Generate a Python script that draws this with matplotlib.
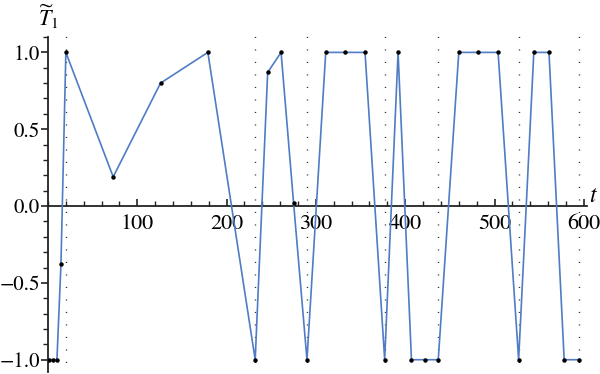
import numpy as np
import matplotlib
matplotlib.use("Agg")
import matplotlib.pyplot as plt
from matplotlib.ticker import MultipleLocator, FixedLocator

plt.rcParams['font.family'] = ['STIXGeneral', 'DejaVu Serif']
plt.rcParams['mathtext.fontset'] = 'stix'

# sample points of the curve
t = [1, 5.5, 10, 14.5, 20, 73, 126, 179, 232, 246, 261, 275, 290, 311, 333, 355,
     377, 392, 407, 422, 437, 460, 482, 504, 527, 544, 561, 578, 595]
T1 = [-1.0, -1.0, -1.0, -0.38, 1.0, 0.19, 0.80, 1.0, -1.0, 0.87, 1.0, 0.02, -1.0,
      1.0, 1.0, 1.0, -1.0, 1.0, -1.0, -1.0, -1.0, 1.0, 1.0, 1.0, -1.0, 1.0, 1.0,
      -1.0, -1.0]

# dotted vertical markers
switch_times = [20, 232, 290, 377, 437, 527, 595]

x_ticks = [100, 200, 300, 400, 500, 600]
y_ticks = [-1.0, -0.5, 0.0, 0.5, 1.0]

fig = plt.figure(figsize=(6.0, 3.74), dpi=100)
ax = fig.add_axes([0.08, 0.0053, 0.8975, 0.8957])

ax.set_xlim(0, 603)
ax.set_ylim(-1.08, 1.1)

for s in switch_times:
    ax.vlines(s, -1.12, 1.12, colors='#333333', linewidth=1.0,
              linestyles=(0, (0.8, 8.2)), clip_on=False, zorder=1)

ax.plot(t, T1, color='#4f7cc4', linewidth=1.2, zorder=3)
ax.plot(t, T1, 'o', color='black', markersize=2.2, zorder=4)

# axes through the origin
ax.spines['left'].set_position(('data', 0))
ax.spines['bottom'].set_position(('data', 0))
ax.spines['top'].set_visible(False)
ax.spines['right'].set_visible(False)
for sp in ('left', 'bottom'):
    ax.spines[sp].set_linewidth(1.3)
    ax.spines[sp].set_color('#222222')
    ax.spines[sp].set_zorder(2)

ax.xaxis.set_major_locator(FixedLocator(x_ticks))
ax.xaxis.set_minor_locator(MultipleLocator(20))
ax.yaxis.set_major_locator(FixedLocator(y_ticks))
ax.yaxis.set_minor_locator(MultipleLocator(0.1))
ax.set_xticklabels([str(v) for v in x_ticks])
ax.set_yticklabels(['\u22121.0', '\u22120.5', '0.0', '0.5', '1.0'])

ax.tick_params(axis='x', which='major', direction='in', length=5, width=1.2,
               labelsize=16, pad=6, color='#222222')
ax.tick_params(axis='x', which='minor', direction='in', length=3.5, width=1.0,
               color='#222222')
ax.tick_params(axis='y', which='major', direction='out', length=5, width=1.2,
               labelsize=15, pad=1, color='#222222')
ax.tick_params(axis='y', which='minor', direction='out', length=3.5, width=1.0,
               color='#222222')

ax.annotate(r'$\widetilde{T}_1$', xy=(0, 1), xycoords='axes fraction',
            xytext=(0, 4), textcoords='offset points', ha='center', va='bottom',
            fontsize=16)
ax.annotate(r'$t$', xy=(603, 0), xycoords='data', xytext=(2, -1),
            textcoords='offset points', ha='left', va='bottom', fontsize=17)

fig.savefig('out.png', dpi=100)
